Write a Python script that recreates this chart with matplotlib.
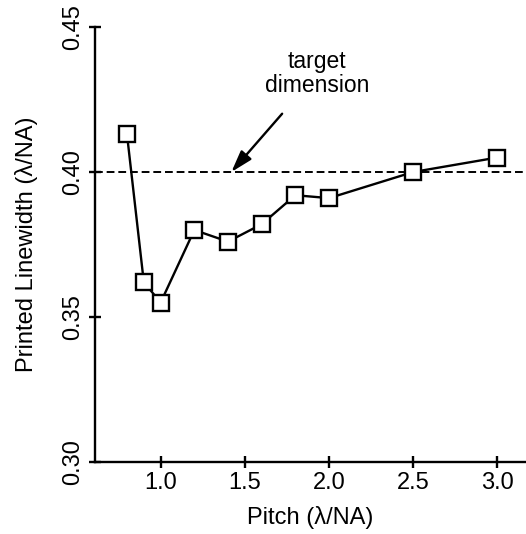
import numpy as np
import matplotlib.pyplot as plt

plt.rcParams['font.family'] = ['Liberation Sans', 'DejaVu Sans']

# measured printed linewidth vs pitch
pitch = [0.8, 0.9, 1.0, 1.2, 1.4, 1.6, 1.8, 2.0, 2.5, 3.0]
linewidth = [0.413, 0.362, 0.355, 0.380, 0.376, 0.382, 0.392, 0.391, 0.400, 0.405]
target = 0.40

xticks = [1.0, 1.5, 2.0, 2.5, 3.0]
yticks = [0.30, 0.35, 0.40, 0.45]

fig = plt.figure(figsize=(5.26, 5.34), dpi=100)
ax = fig.add_axes([0.1806, 0.1348, 0.8194, 0.8146])

ax.axhline(target, color='black', lw=1.4, dashes=(4, 2))
ax.plot(pitch, linewidth, color='black', lw=1.7, marker='s', markersize=11.5,
        markerfacecolor='white', markeredgecolor='black', markeredgewidth=1.7,
        zorder=3)

ax.annotate('target\ndimension', xy=(1.42, target), xytext=(1.93, 0.434),
            ha='center', va='center', fontsize=16.5, linespacing=1.1,
            arrowprops=dict(arrowstyle='-|>,head_length=0.8,head_width=0.25',
                            color='black', lw=1.7, shrinkA=13, shrinkB=0))

ax.set_xlim(0.61, 3.17)
ax.set_ylim(0.30, 0.45)
ax.set_xticks(xticks)
ax.set_yticks(yticks)
ax.set_xticklabels([f'{v:.1f}' for v in xticks])
ax.set_yticklabels([f'{v:.2f}' for v in yticks], rotation=90, va='center')

for s in ['top', 'right']:
    ax.spines[s].set_visible(False)
for s in ['left', 'bottom']:
    ax.spines[s].set_linewidth(1.7)

ax.tick_params(direction='inout', length=9, width=1.7, labelsize=17, pad=3)
ax.set_xlabel('Pitch (λ/NA)', fontsize=17, labelpad=8)
ax.set_ylabel('Printed Linewidth (λ/NA)', fontsize=17, labelpad=18)

fig.savefig('out.png', dpi=100)
